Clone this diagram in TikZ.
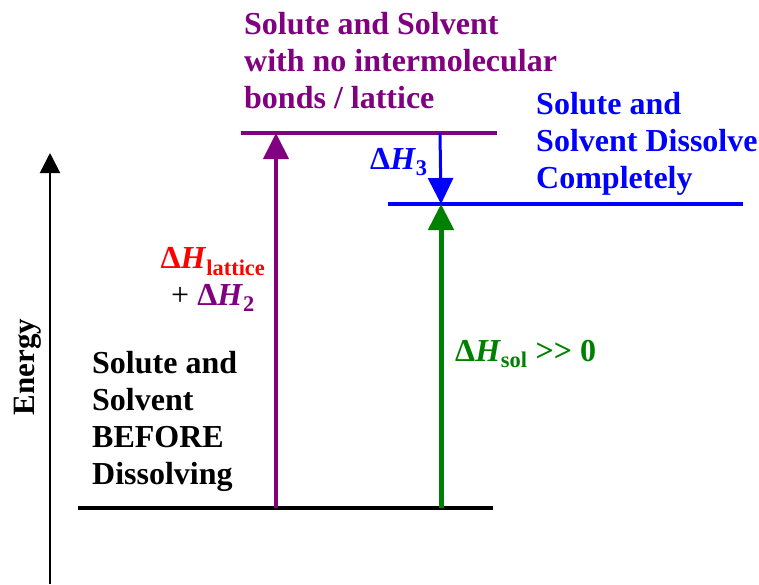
\documentclass[tikz,border=0pt]{standalone}
\usepackage{fontspec}
\setmainfont{Liberation Serif}
\usetikzlibrary{arrows.meta,positioning}
\definecolor{latpurple}{HTML}{800080}
\definecolor{solblue}{HTML}{0000FF}
\definecolor{solgreen}{HTML}{008000}
\definecolor{latred}{HTML}{FF0000}
\newcommand{\enth}{Δ\textit{H}}
\tikzset{
  levelline/.style={line width=4pt, color=#1},
  levelline/.default=black,
  steparrow/.style={
    -{Triangle[width=25pt,length=26pt]}, line width=4pt, color=#1
  },
  steparrow/.default=black,
  levellabel/.style={
    font=\fontsize{32}{37}\selectfont\bfseries, text=#1,
    align=left, inner sep=0pt, anchor=north west
  },
  levellabel/.default=black,
  enthlabel/.style={
    font=\fontsize{32}{37}\selectfont\bfseries, text=#1, inner sep=0pt
  },
  enthlabel/.default=black,
}
\begin{document}
\begin{tikzpicture}[x=1pt,y=-1pt]
  \useasboundingbox (0,0) rectangle (759,584);

  % energy axis
  \coordinate (axisbot) at (50,584);
  \coordinate (axistop) at (50,153);
  \draw[line width=2pt, -{Triangle[width=20pt,length=20pt]}] (axisbot) -- (axistop);
  \node[enthlabel, font=\fontsize{31}{36}\selectfont\bfseries, rotate=90] (energy)
    at (28,367) {Energy};

  % levels
  \draw[levelline] (78,508) -- (493,508);
  \draw[levelline=latpurple] (241,133) -- (497,133);
  \draw[levelline=solblue] (388,204) -- (743,204);

  \coordinate (latfoot) at (276,508);
  \coordinate (lattop) at (276,133);
  \coordinate (solfoot) at (441,508);
  \coordinate (soltop) at (441,204);
  \coordinate (hydstart) at (440,133);

  % steps
  \draw[steparrow=latpurple] (latfoot) -- (lattop);
  \draw[steparrow=solgreen, line width=5pt] (solfoot) -- (soltop);
  \draw[steparrow=solblue, line width=3pt] (hydstart) -- (soltop);

  % level names
  \node[levellabel=latpurple] (gaslabel) at (244,12)
    {Solute and Solvent\\with no intermolecular\\bonds / lattice};
  \node[levellabel=solblue] (dissolved) at (536,92)
    {Solute and\\Solvent Dissolve\\Completely};
  \node[levellabel] (before) at (92,351)
    {Solute and\\Solvent\\BEFORE\\Dissolving};

  % enthalpy labels
  \node[enthlabel=solblue, anchor=base west] (dhthree) at (370,169)
    {\enth\textsubscript{3}};
  \node[enthlabel, align=center, anchor=north] (dhlat) at (213,247)
    {\textcolor{latred}{\enth\textsubscript{lattice}}\\
     \textmd{+} \textcolor{latpurple}{\enth\textsubscript{2}}};
  \node[enthlabel=solgreen, anchor=base west] (dhsol) at (455,361)
    {\enth\textsubscript{sol} >{}> 0};
\end{tikzpicture}
\end{document}
